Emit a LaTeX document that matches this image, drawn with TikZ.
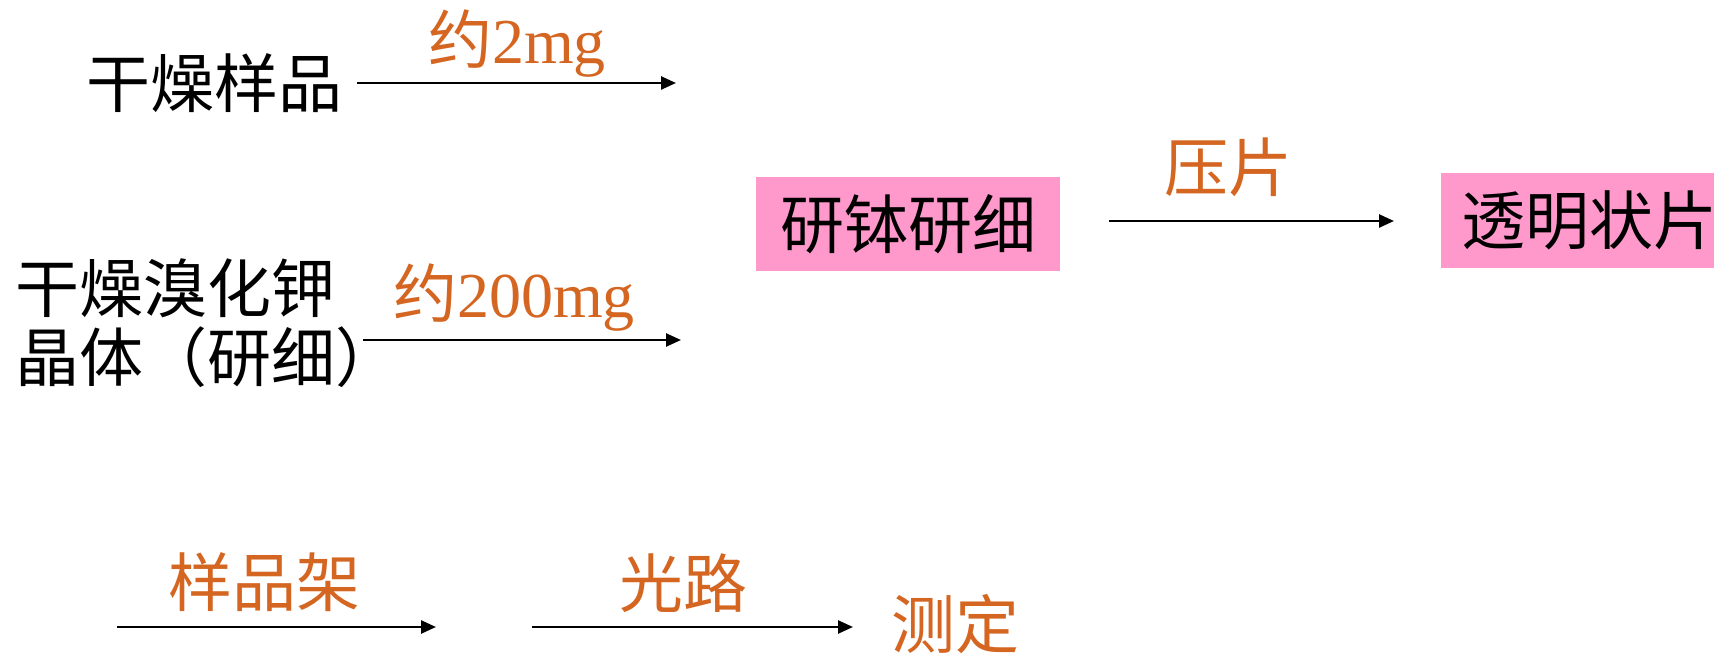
\documentclass[tikz,border=0pt]{standalone}
\usepackage{fontspec}
\setmainfont{Liberation Serif}
\newfontfamily\cjk{Noto Sans CJK SC}
\usetikzlibrary{arrows.meta}
\definecolor{orng}{RGB}{212,102,34}
\definecolor{pinkbox}{RGB}{255,153,204}
\tikzset{
  txt/.style={font=\cjk\fontsize{64}{69}\selectfont, inner sep=0pt, text=black},
  lbl/.style={font=\fontsize{64}{69}\selectfont, inner sep=0pt, text=orng},
  arr/.style={-{Triangle[length=15pt,width=13pt]}, line width=2.5pt},
  pinkfill/.style={fill=pinkbox, draw=none}
}
\begin{document}
\begin{tikzpicture}[x=1pt,y=-1pt]
\useasboundingbox (0,0) rectangle (1714,655);
% top row
\node[txt] (sample) at (214,83) {干燥样品};
\coordinate (a1s) at (357,83);
\coordinate (a1e) at (676,83);
\draw[arr] (a1s) -- (a1e);
\node[lbl] (l1) at (517,44) {{\cjk 约}2mg};
% KBr
\node[txt, align=left, anchor=west] (kbr) at (15,323) {干燥溴化钾\\晶体（研细）};
\coordinate (a2s) at (363,340);
\coordinate (a2e) at (681,340);
\draw[arr] (a2s) -- (a2e);
\node[lbl] (l2) at (514,298) {{\cjk 约}200mg};
% grinding box
\fill[pinkfill] (756,177) rectangle (1060,271);
\node[txt] (grind) at (908,224) {研钵研细};
% pellet box
\fill[pinkfill] (1441,173) rectangle (1714,268);
\node[txt, anchor=west] (pellet) at (1461,220) {透明状片};
\coordinate (a3s) at (1109,221);
\coordinate (a3e) at (1394,221);
\draw[arr] (a3s) -- (a3e);
\node[lbl, font=\cjk\fontsize{64}{69}\selectfont] (l3) at (1228,167) {压片};
% bottom row
\coordinate (a4s) at (117,627);
\coordinate (a4e) at (436,627);
\draw[arr] (a4s) -- (a4e);
\node[lbl, font=\cjk\fontsize{64}{69}\selectfont] (l4) at (264,582) {样品架};
\coordinate (a5s) at (532,627);
\coordinate (a5e) at (853,627);
\draw[arr] (a5s) -- (a5e);
\node[lbl, font=\cjk\fontsize{64}{69}\selectfont] (measure) at (955,624) {测定};
\node[lbl, font=\cjk\fontsize{64}{69}\selectfont] (l5) at (683,583) {光路};
\end{tikzpicture}
\end{document}
